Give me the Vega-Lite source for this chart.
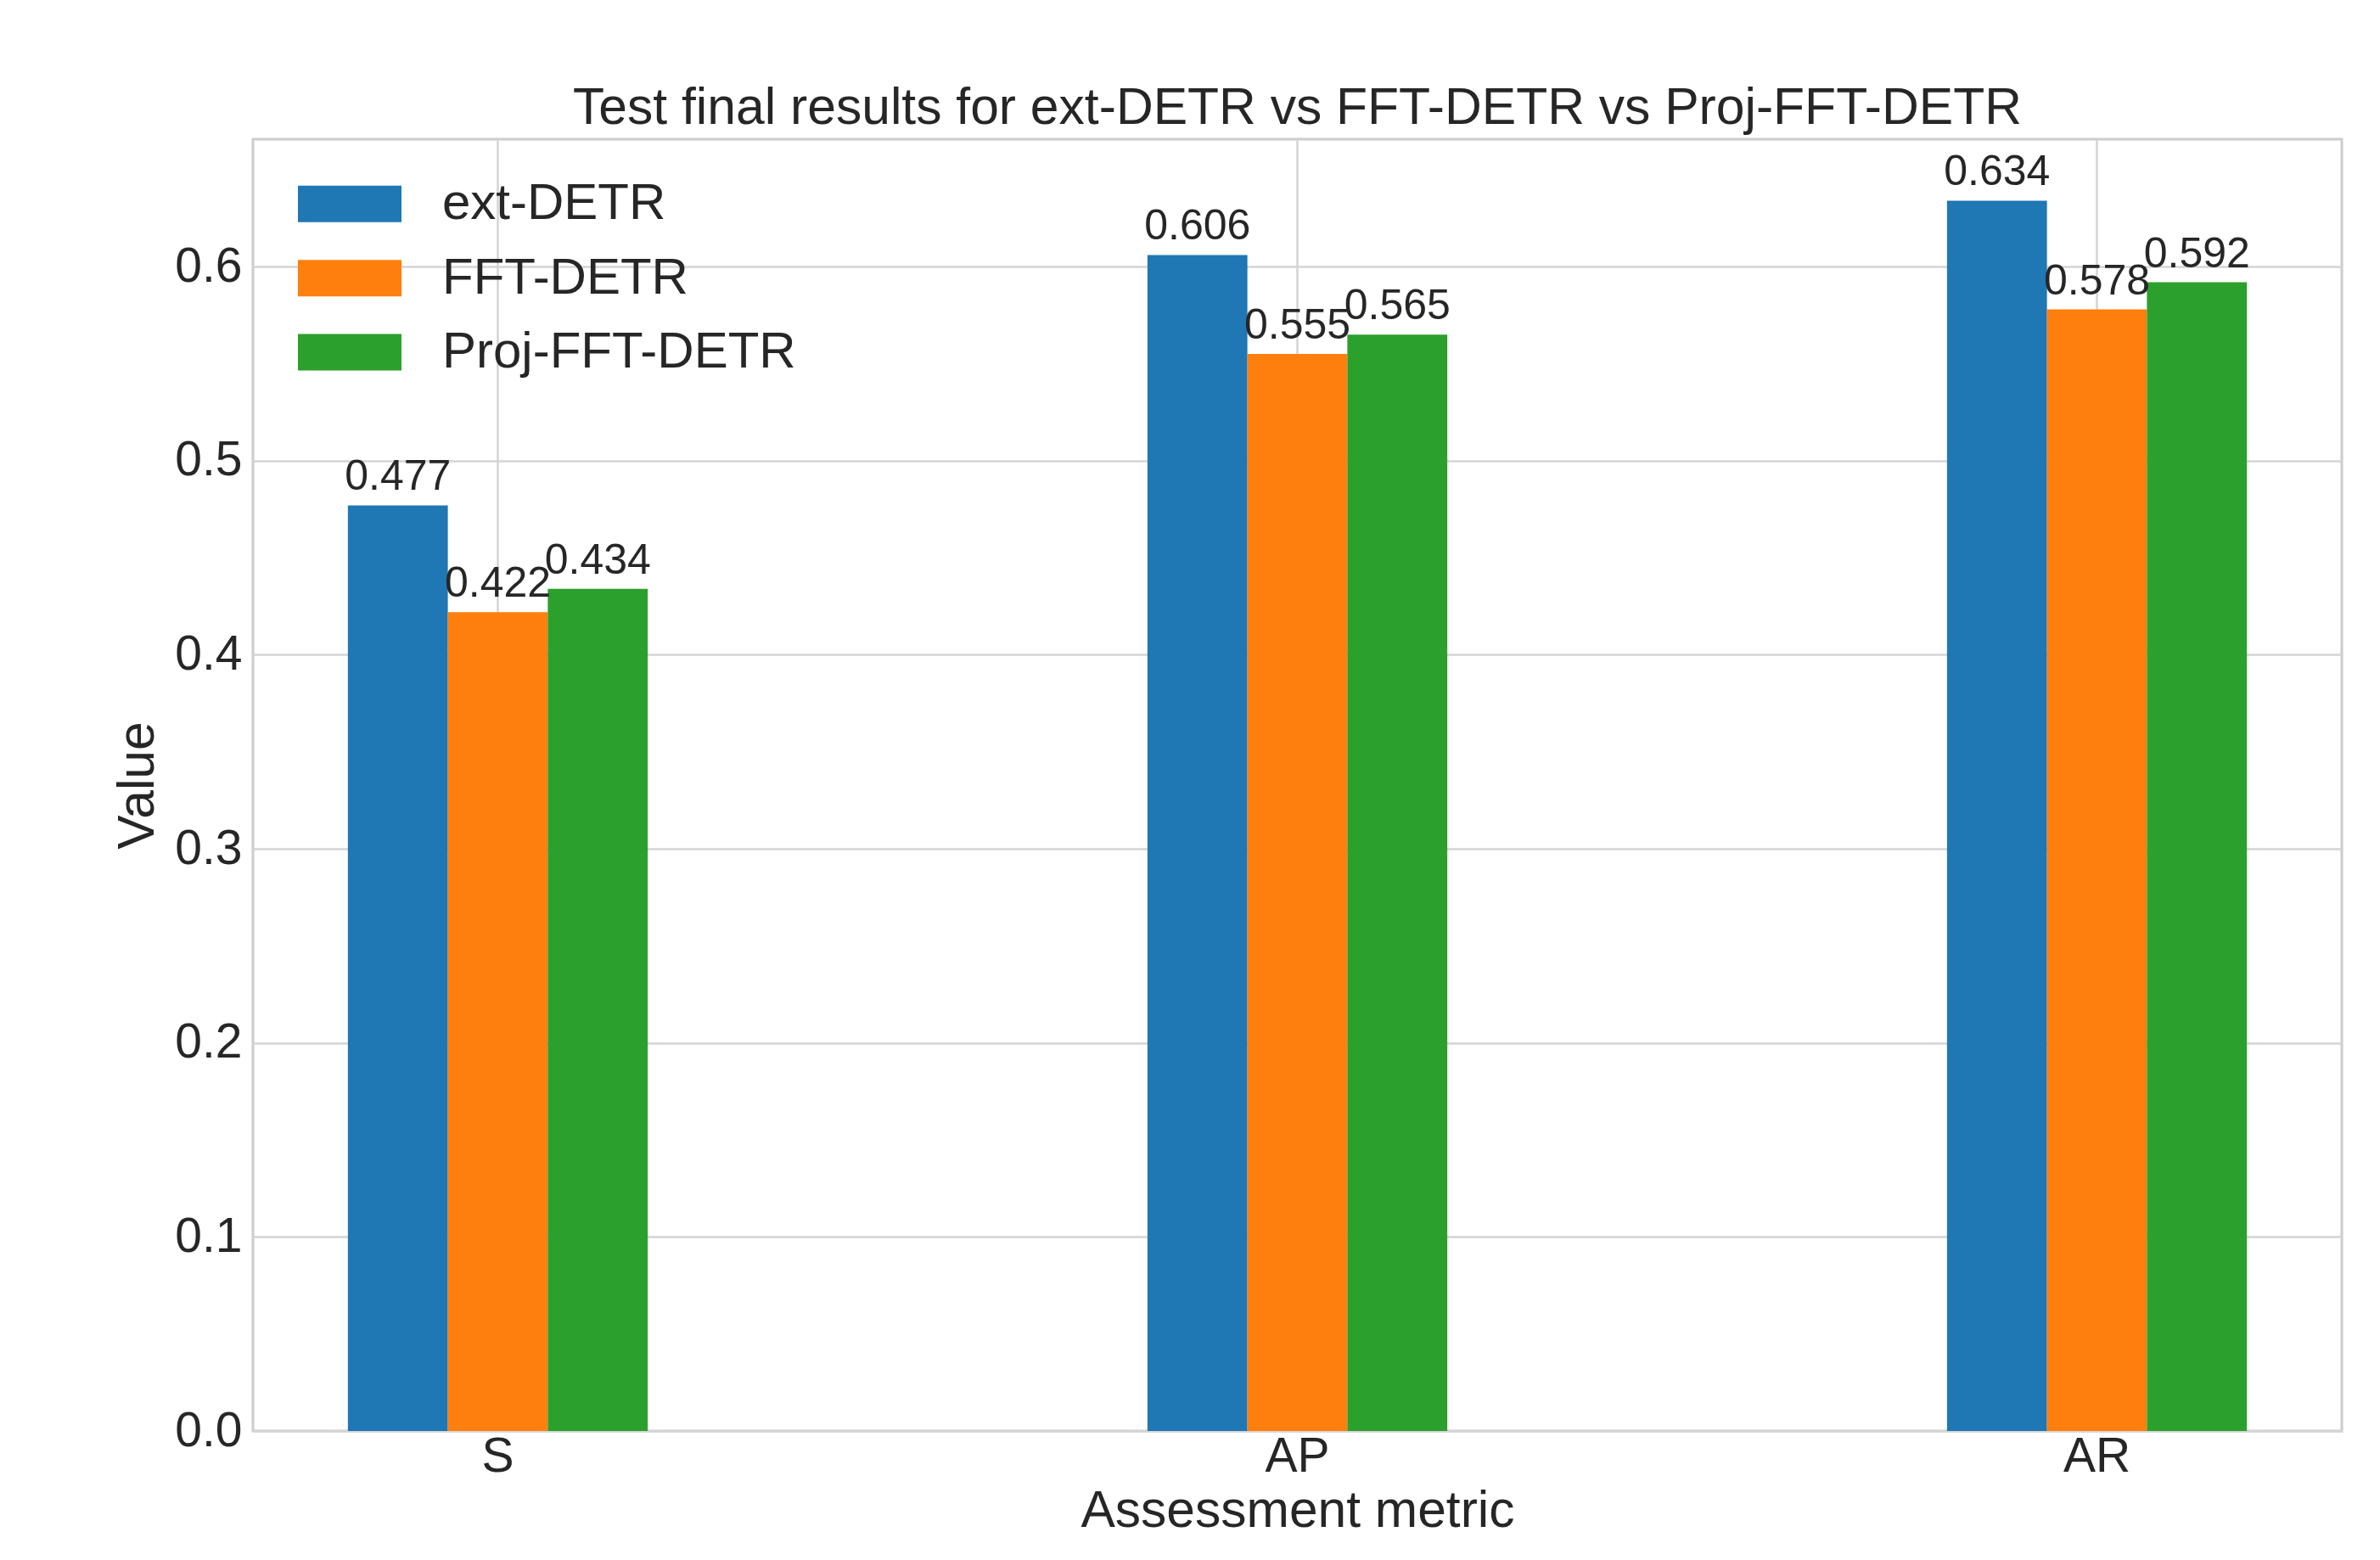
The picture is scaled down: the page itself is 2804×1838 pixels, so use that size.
{
  "$schema": "https://vega.github.io/schema/vega-lite/v6.json",
  "autosize": {"type": "none"},
  "padding": {"left": 298, "top": 164, "right": 45, "bottom": 152},
  "width": 2461,
  "height": 1522,
  "background": "white",
  "title": {
    "text": "Test final results for ext-DETR vs FFT-DETR vs Proj-FFT-DETR",
    "font": "Liberation Sans",
    "fontSize": 60.6,
    "fontWeight": "normal",
    "color": "#262626",
    "anchor": "middle",
    "baseline": "alphabetic",
    "offset": -43
  },
  "data": {
    "values": [
      {"metric": "S", "model": "ext-DETR", "value": 0.477},
      {"metric": "S", "model": "FFT-DETR", "value": 0.422},
      {"metric": "S", "model": "Proj-FFT-DETR", "value": 0.434},
      {"metric": "AP", "model": "ext-DETR", "value": 0.606},
      {"metric": "AP", "model": "FFT-DETR", "value": 0.555},
      {"metric": "AP", "model": "Proj-FFT-DETR", "value": 0.565},
      {"metric": "AR", "model": "ext-DETR", "value": 0.634},
      {"metric": "AR", "model": "FFT-DETR", "value": 0.578},
      {"metric": "AR", "model": "Proj-FFT-DETR", "value": 0.592}
    ]
  },
  "encoding": {
    "x": {
      "field": "metric",
      "type": "nominal",
      "sort": ["S", "AP", "AR"],
      "scale": {"paddingInner": 0.625, "paddingOuter": 0.11875},
      "axis": {
        "title": "Assessment metric",
        "labelAngle": 0,
        "labelPadding": 2,
        "titleY": 112,
        "titleBaseline": "alphabetic"
      }
    },
    "xOffset": {
      "field": "model",
      "type": "nominal",
      "sort": ["ext-DETR", "FFT-DETR", "Proj-FFT-DETR"],
      "scale": {"paddingInner": 0, "paddingOuter": 0}
    },
    "y": {
      "field": "value",
      "type": "quantitative",
      "scale": {"domain": [0, 0.6657], "nice": false, "zero": true},
      "axis": {
        "title": "Value",
        "values": [0, 0.1, 0.2, 0.3, 0.4, 0.5, 0.6],
        "format": ".1f",
        "labelPadding": 13,
        "titleX": -118,
        "titleBaseline": "alphabetic"
      }
    }
  },
  "layer": [
    {
      "mark": {"type": "bar"},
      "encoding": {
        "color": {
          "field": "model",
          "type": "nominal",
          "sort": ["ext-DETR", "FFT-DETR", "Proj-FFT-DETR"],
          "scale": {
            "domain": ["ext-DETR", "FFT-DETR", "Proj-FFT-DETR"],
            "range": ["#1f77b4", "#ff7f0e", "#2ca02c"]
          },
          "legend": {
            "title": null,
            "orient": "none",
            "legendX": 72.5,
            "legendY": 34.8,
            "padding": 0,
            "symbolType": "M-1.47,-0.518H1.47V0.518H-1.47Z",
            "symbolSize": 6889,
            "symbolStrokeWidth": 0,
            "symbolOpacity": 1,
            "rowPadding": 15.4,
            "labelOffset": 67.5,
            "labelFont": "Liberation Sans",
            "labelFontSize": 60,
            "labelColor": "#262626",
            "labelLimit": 1000
          }
        }
      }
    },
    {
      "mark": {
        "type": "text",
        "align": "center",
        "baseline": "alphabetic",
        "dy": -18,
        "font": "Liberation Sans",
        "fontSize": 50,
        "color": "#262626"
      },
      "encoding": {
        "text": {"field": "value", "type": "quantitative", "format": ".3f"}
      }
    }
  ],
  "config": {
    "view": {"stroke": "#cccccc", "strokeWidth": 3, "fill": "white"},
    "axis": {
      "labelFont": "Liberation Sans",
      "labelFontSize": 57,
      "labelColor": "#262626",
      "titleFont": "Liberation Sans",
      "titleFontSize": 60.5,
      "titleFontWeight": "normal",
      "titleColor": "#262626",
      "domain": false,
      "ticks": false,
      "grid": true,
      "gridColor": "#d4d4d4",
      "gridWidth": 2.5
    }
  }
}
